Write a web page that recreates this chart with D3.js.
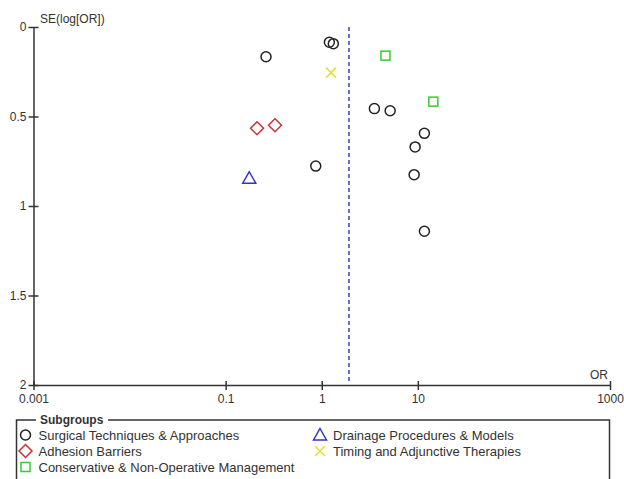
<!DOCTYPE html>
<html>
<head>
<meta charset="utf-8">
<script src="https://cdn.jsdelivr.net/npm/d3@7"></script>
<style>
  body { margin: 0; background: #fff; }
  text { font-family: "Liberation Sans", Arial, sans-serif; fill: #333; }
</style>
</head>
<body>
<div id="container"></div>
<script>
// odds ratios and standard errors per subgroup
var surgicalOR = [0.263, 1.2, 1.32, 3.53, 5.15, 11.7, 9.37, 0.866, 9.15, 11.7]
var surgicalSE = [0.166, 0.085, 0.093, 0.456, 0.468, 0.594, 0.670, 0.777, 0.825, 1.141]
var adhesionOR = [0.212, 0.326]
var adhesionSE = [0.566, 0.549]
var drainageOR = [0.176]
var drainageSE = [0.845]
var timingOR = [1.25]
var timingSE = [0.255]
var conservativeOR = [4.6, 14.5]
var conservativeSE = [0.160, 0.417]
var pooledOR = 1.92

var xTicks = [0.001, 0.1, 1, 10, 1000]
var xTickLabels = ["0.001", "0.1", "1", "10", "1000"]
var yTicks = [0, 0.5, 1, 1.5, 2]
var yTickLabels = ["0", "0.5", "1", "1.5", "2"]

var groupNames = ["Surgical Techniques & Approaches", "Adhesion Barriers", "Conservative & Non-Operative Management",
  "Drainage Procedures & Models", "Timing and Adjunctive Therapies"]

var width = 624
var height = 479
var svg = d3.select("#container")
  .append("svg")
  .attr("width", width)
  .attr("height", height)

var x = d3.scaleLog().domain([0.001, 1000]).range([33.5, 610])
var y = d3.scaleLinear().domain([0, 2]).range([27, 385])

var groups = [
  { name: groupNames[0], or: surgicalOR, se: surgicalSE, shape: "circle", color: "#222" },
  { name: groupNames[1], or: adhesionOR, se: adhesionSE, shape: "diamond", color: "#cc3333" },
  { name: groupNames[2], or: conservativeOR, se: conservativeSE, shape: "square", color: "#33cc33" },
  { name: groupNames[3], or: drainageOR, se: drainageSE, shape: "triangle", color: "#3333cc" },
  { name: groupNames[4], or: timingOR, se: timingSE, shape: "cross", color: "#e0e040" }
]

function drawMarker(g, shape, color) {
  if (shape == "circle") {
    g.append("circle").attr("r", 5)
      .attr("fill", "none").attr("stroke", color).attr("stroke-width", 1.5)
  } else if (shape == "diamond") {
    g.append("path").attr("d", "M0,-6.5L6.5,0L0,6.5L-6.5,0Z")
      .attr("fill", "none").attr("stroke", color).attr("stroke-width", 1.5)
  } else if (shape == "square") {
    g.append("rect").attr("x", -4.5).attr("y", -4.5).attr("width", 9).attr("height", 9)
      .attr("fill", "none").attr("stroke", color).attr("stroke-width", 1.5)
  } else if (shape == "triangle") {
    g.append("path").attr("d", "M0,-6.5L6.5,5L-6.5,5Z")
      .attr("fill", "none").attr("stroke", color).attr("stroke-width", 1.5)
  } else {
    g.append("path").attr("d", "M-5,-5L5,5M-5,5L5,-5")
      .attr("fill", "none").attr("stroke", color).attr("stroke-width", 1.5)
  }
}

// axes
var xAxis = svg.append("g")
  .attr("transform", "translate(0," + y(2) + ")")
  .call(d3.axisBottom(x).tickValues(xTicks).tickFormat((d, i) => xTickLabels[i]).tickSizeOuter(0))
xAxis.select(".domain").attr("stroke", "#333").attr("stroke-width", 1.5)
xAxis.selectAll(".tick line").attr("y1", -4).attr("y2", 5).attr("stroke", "#333").attr("stroke-width", 1.5)
xAxis.selectAll(".tick text").attr("y", 9).style("font-size", "12px")
  .style("font-family", "'Liberation Sans', Arial, sans-serif").attr("fill", "#333")

var yAxis = svg.append("g")
  .attr("transform", "translate(" + x(0.001) + ",0)")
  .call(d3.axisLeft(y).tickValues(yTicks).tickFormat((d, i) => yTickLabels[i]).tickSizeOuter(0))
yAxis.select(".domain").attr("stroke", "#333").attr("stroke-width", 1.5)
yAxis.selectAll(".tick line").attr("x1", 5).attr("x2", -5).attr("stroke", "#333").attr("stroke-width", 1.5)
yAxis.selectAll(".tick text").attr("x", -7).style("font-size", "12px")
  .style("font-family", "'Liberation Sans', Arial, sans-serif").attr("fill", "#333")

svg.append("text").attr("x", 40).attr("y", 23).style("font-size", "12px").text("SE(log[OR])")
svg.append("text").attr("x", 608).attr("y", 379).attr("text-anchor", "end").style("font-size", "12px").text("OR")

// pooled estimate line
svg.append("line")
  .attr("x1", x(pooledOR)).attr("x2", x(pooledOR))
  .attr("y1", y(0)).attr("y2", y(2) - 3)
  .attr("stroke", "#6a6ad0").attr("stroke-width", 2).attr("stroke-dasharray", "4,3")

// points
groups.forEach(function(grp) {
  grp.or.forEach(function(v, i) {
    var g = svg.append("g").attr("transform", "translate(" + x(v) + "," + y(grp.se[i]) + ")")
    drawMarker(g, grp.shape, grp.color)
  })
})

// legend
var legend = svg.append("g")
legend.append("rect").attr("x", 16.5).attr("y", 420).attr("width", 593).attr("height", 70)
  .attr("fill", "none").attr("stroke", "#333").attr("stroke-width", 1.5)
legend.append("rect").attr("x", 36).attr("y", 413).attr("width", 72).attr("height", 14).attr("fill", "#fff")
legend.append("text").attr("x", 40).attr("y", 424).style("font-size", "12px").style("font-weight", "bold").text("Subgroups")

var legendPos = [[25.5, 435], [25.5, 451], [25.5, 467], [320, 435], [320, 451]]
groups.forEach(function(grp, i) {
  var g = legend.append("g").attr("transform", "translate(" + legendPos[i][0] + "," + legendPos[i][1] + ")")
  drawMarker(g, grp.shape, grp.color)
  g.append("text").attr("x", 13).attr("y", 5).style("font-size", "13px").text(grp.name)
})
</script>
</body>
</html>
